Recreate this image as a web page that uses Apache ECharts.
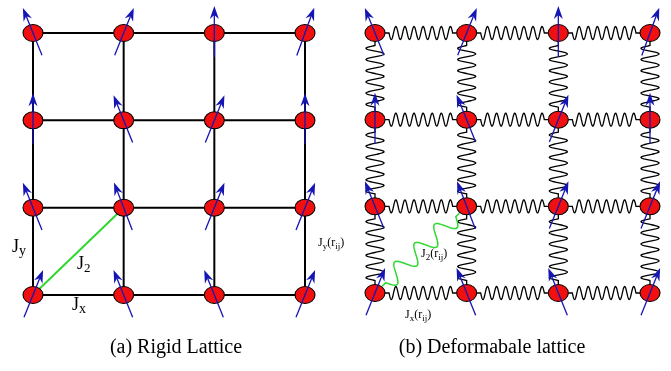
<!DOCTYPE html>
<html><head><meta charset="utf-8">
<script src="https://cdn.jsdelivr.net/npm/echarts@6/dist/echarts.min.js"></script>
<style>html,body{margin:0;padding:0;background:#fff}#c{width:671px;height:371px}</style>
</head><body><div id="c"></div>
<script>
// lattice site indices (row 0 = top)
const latticeCols = [0, 1, 2, 3];
const latticeRows = [0, 1, 2, 3];
// spin tilt from vertical in degrees (+ = tilted to the right), row 0 = top
const spinAngles = [
  [-22, 22, 0, 20],
  [0, -22, 22, 0],
  [-22, -21, 22, 22],
  [22, -22, -22, 22]
];
// next-nearest-neighbour bond J2: [col,row] -> [col,row]
const j2Bond = [0, 3, 1, 2];
const captions = ['(a) Rigid Lattice', '(b) Deformabale lattice'];

const FONT = 'Liberation Serif';
const RED = '#f01010', BLUE = '#1515b4', GREEN = '#2fd82f';

const nodes = [];
latticeRows.forEach(r => latticeCols.forEach(c => nodes.push([c, r, spinAngles[r][c]])));
const hBonds = [], vBonds = [];
latticeRows.forEach(r => latticeCols.slice(0, -1).forEach(c => hBonds.push([c, r, c + 1, r])));
latticeCols.forEach(c => latticeRows.slice(0, -1).forEach(r => vBonds.push([c, r, c, r + 1])));

function ends(api) {
  return [api.coord([api.value(0), api.value(1)]), api.coord([api.value(2), api.value(3)])];
}
function lineItem(color, width) {
  return function (params, api) {
    const [p1, p2] = ends(api);
    return { type: 'line', shape: { x1: p1[0], y1: p1[1], x2: p2[0], y2: p2[1] },
      style: { stroke: color, lineWidth: width } };
  };
}
function springItem(color, width, periods, amp, edge, stub) {
  return function (params, api) {
    const [p1, p2] = ends(api);
    const dx = p2[0] - p1[0], dy = p2[1] - p1[1];
    const L = Math.hypot(dx, dy), ux = dx / L, uy = dy / L, nx = -uy, ny = ux;
    const at = (s, o) => [p1[0] + ux * s + nx * o, p1[1] + uy * s + ny * o];
    const a = edge + stub, b = L - edge - stub;
    const pts = [at(edge, 0)];
    const N = 240;
    for (let k = 0; k <= N; k++) {
      const t = k / N;
      pts.push(at(a + (b - a) * t, amp * Math.sin(2 * Math.PI * periods * t)));
    }
    pts.push(at(L - edge, 0));
    return { type: 'polyline', shape: { points: pts },
      style: { stroke: color, lineWidth: width, fill: null } };
  };
}
function arrowItem(params, api) {
  const p = api.coord([api.value(0), api.value(1)]);
  const a = api.value(2) * Math.PI / 180;
  const dx = Math.sin(a), dy = -Math.cos(a);
  const up = 27, down = 24, hl = 13, hw = 4.5, notch = 9;
  const nx = -dy, ny = dx;
  const tip = [p[0] + dx * up, p[1] + dy * up];
  const tail = [p[0] - dx * down, p[1] - dy * down];
  const base = [tip[0] - dx * hl, tip[1] - dy * hl];
  const nb = [tip[0] - dx * notch, tip[1] - dy * notch];
  return { type: 'group', children: [
    { type: 'line', shape: { x1: tail[0], y1: tail[1], x2: nb[0], y2: nb[1] },
      style: { stroke: BLUE, lineWidth: 1.3 } },
    { type: 'polygon', shape: { points: [tip, [base[0] + nx * hw, base[1] + ny * hw], nb,
      [base[0] - nx * hw, base[1] - ny * hw]] }, style: { fill: BLUE } }
  ] };
}

function richLabel(parts, big, small, x, y) {
  const text = parts.map(p => '{' + p[0] + '|' + p[1] + '}').join('');
  return { type: 'text', left: x, top: y, z: 100,
    style: { text: text, rich: {
      m: { fontFamily: FONT, fontSize: big, lineHeight: big + 4, fill: '#000' },
      s: { fontFamily: FONT, fontSize: small, lineHeight: small, verticalAlign: 'bottom', fill: '#000' }
    } } };
}

const chart = echarts.init(document.getElementById('c'));
const ax = (g, inv) => ({ gridIndex: g, type: 'value', min: 0, max: 3, show: false, inverse: inv });
const base = (g) => ({ xAxisIndex: g, yAxisIndex: g, animation: false });

chart.setOption({
  animation: false,
  grid: [
    { left: 33, top: 33, width: 272, height: 262 },
    { left: 375, top: 33, width: 275, height: 260 }
  ],
  xAxis: [ax(0, false), ax(1, false)],
  yAxis: [ax(0, true), ax(1, true)],
  series: [
    Object.assign(base(0), { type: 'custom', z: 1, renderItem: lineItem('#000', 2), data: hBonds.concat(vBonds) }),
    Object.assign(base(0), { type: 'custom', z: 2, renderItem: lineItem(GREEN, 2), data: [j2Bond] }),
    Object.assign(base(1), { type: 'custom', z: 1, renderItem: springItem('#000', 1.3, 7, 6.5, 10, 4), data: hBonds }),
    Object.assign(base(1), { type: 'custom', z: 1, renderItem: springItem('#000', 1.3, 5.5, 9, 8.5, 4), data: vBonds }),
    Object.assign(base(1), { type: 'custom', z: 2, renderItem: springItem(GREEN, 1.5, 3.5, 9, 10, 5), data: [j2Bond] }),
    Object.assign(base(0), { type: 'scatter', z: 5, clip: false, symbol: 'circle', symbolSize: [20, 17],
      itemStyle: { color: RED, borderColor: '#000', borderWidth: 1, opacity: 1 }, data: nodes }),
    Object.assign(base(1), { type: 'scatter', z: 5, clip: false, symbol: 'circle', symbolSize: [20, 17],
      itemStyle: { color: RED, borderColor: '#000', borderWidth: 1, opacity: 1 }, data: nodes }),
    Object.assign(base(0), { type: 'custom', z: 8, renderItem: arrowItem, data: nodes }),
    Object.assign(base(1), { type: 'custom', z: 8, renderItem: arrowItem, data: nodes })
  ],
  graphic: [
    richLabel([['m', 'J'], ['s', 'y']], 18, 14, 12, 238),
    richLabel([['m', 'J'], ['s', '2']], 18, 13, 77, 255),
    richLabel([['m', 'J'], ['s', 'x']], 18, 14, 72, 296),
    richLabel([['m', 'J'], ['s', 'y'], ['m', '(r'], ['s', 'ij'], ['m', ')']], 12, 9, 318, 237),
    richLabel([['m', 'J'], ['s', '2'], ['m', '(r'], ['s', 'ij'], ['m', ')']], 12, 9, 421, 248),
    richLabel([['m', 'J'], ['s', 'x'], ['m', '(r'], ['s', 'ij'], ['m', ')']], 12, 9, 405, 309),
    { type: 'text', x: 176, y: 338, z: 100, style: { text: captions[0], fontFamily: FONT, fontSize: 20, fill: '#000', align: 'center' } },
    { type: 'text', x: 492, y: 338, z: 100, style: { text: captions[1], fontFamily: FONT, fontSize: 20, fill: '#000', align: 'center' } }
  ]
});
</script>
</body></html>
